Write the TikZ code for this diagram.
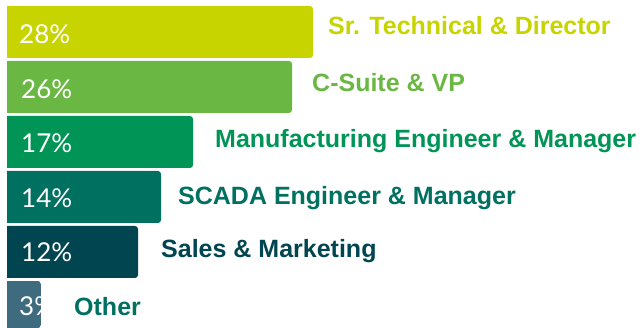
\documentclass[tikz,border=0pt]{standalone}
\usepackage{fontspec}
\setmainfont{Liberation Sans}
\newfontfamily\pctfont{Lato}
\definecolor{cA}{HTML}{C8D400}
\definecolor{cB}{HTML}{6AB843}
\definecolor{cC}{HTML}{009557}
\definecolor{cD}{HTML}{007060}
\definecolor{cE}{HTML}{00454F}
\definecolor{cF}{HTML}{3E6B7D}
\tikzset{
  bar/.style={rounded corners=3pt},
  pct/.style={anchor=base west, inner sep=0pt, text=white, font=\pctfont\fontsize{26}{26}\selectfont},
  lbl/.style={anchor=base west, inner sep=0pt, font=\bfseries\fontsize{25}{25}\selectfont},
}
\begin{document}
\begin{tikzpicture}[x=1pt,y=-1pt]
\useasboundingbox (0,0) rectangle (643,328);
% bars
\fill[cA] (7,6) [bar] -- (313,6) -- (313,58) [sharp corners] -- (7,58) -- cycle;
\fill[cB] (7,61) [bar] -- (292,61) -- (292,113) [sharp corners] -- (7,113) -- cycle;
\fill[cC] (7,116) [bar] -- (193,116) -- (193,168) [sharp corners] -- (7,168) -- cycle;
\fill[cD] (7,171) [bar] -- (161,171) -- (161,223) [sharp corners] -- (7,223) -- cycle;
\fill[cE] (7,226) [bar] -- (138,226) -- (138,278) [sharp corners] -- (7,278) -- cycle;
\begin{scope}
\clip (7,281) [bar] -- (41,281) -- (41,328) [sharp corners] -- (7,328) -- cycle;
\fill[cF] (7,281) rectangle (41,328);
\node[pct] (p6) at (19,316) {3\%};
\end{scope}
% percentages
\node[pct] (p1) at (19,44) {28\%};
\node[pct] (p2) at (21,99) {26\%};
\node[pct] (p3) at (21,153) {17\%};
\node[pct] (p4) at (21,208) {14\%};
\node[pct] (p5) at (21,262) {12\%};
% labels
\node[lbl, text=cA] (l1) at (328,35) {Sr. Technical \& Director};
\node[lbl, text=cB] (l2) at (312,92) {C-Suite \& VP};
\node[lbl, text=cC] (l3) at (215,148) {Manufacturing Engineer \& Manager};
\node[lbl, text=cD] (l4) at (178,205) {SCADA Engineer \& Manager};
\node[lbl, text=cE] (l5) at (161,258) {Sales \& Marketing};
\node[lbl, text=cD] (l6) at (74,316) {Other};
\end{tikzpicture}
\end{document}
